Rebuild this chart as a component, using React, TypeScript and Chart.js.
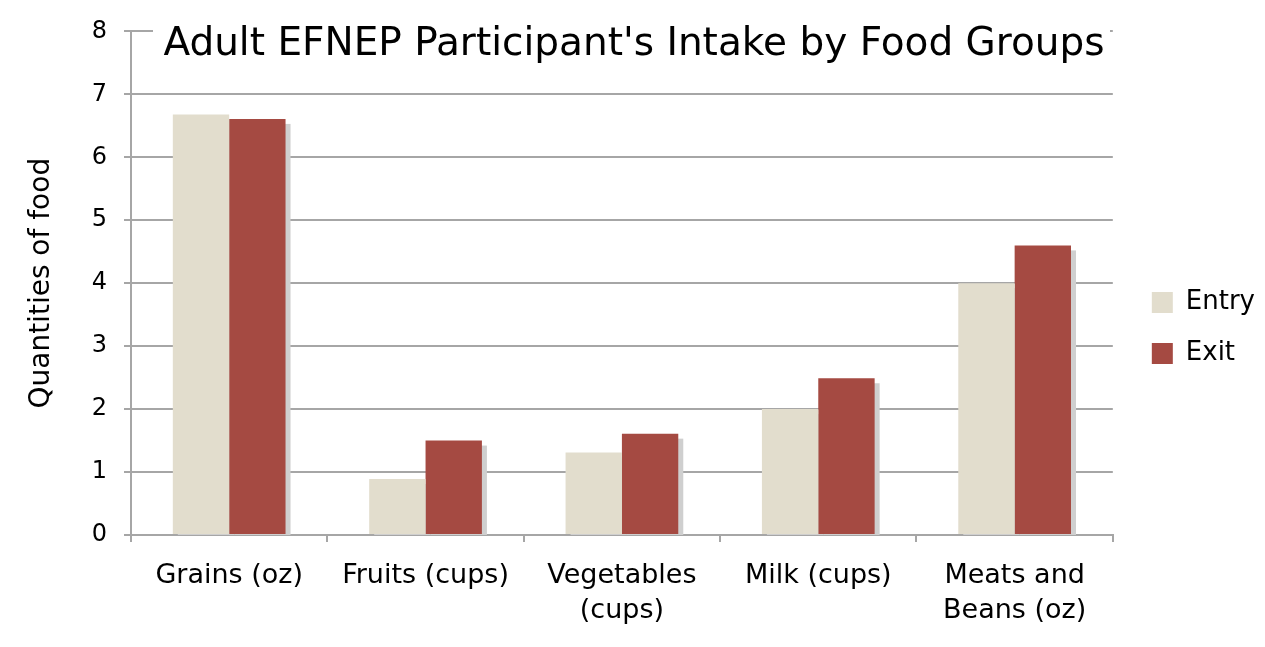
import React, { useEffect, useRef } from "react";
import { Chart, registerables } from "chart.js";

Chart.register(...registerables);

const chartTitle = "Adult EFNEP Participant's Intake by Food Groups";
const yAxisTitle = "Quantities of food";
const categories: (string | string[])[] = [
  "Grains (oz)",
  "Fruits (cups)",
  ["Vegetables", "(cups)"],
  "Milk (cups)",
  ["Meats and", "Beans (oz)"],
];
const seriesNames = ["Entry", "Exit"];
const entryValues = [6.68, 0.89, 1.31, 2.0, 4.0];
const exitValues = [6.61, 1.5, 1.61, 2.49, 4.6];
const yTicksMin = 0;
const yTicksMax = 8;
const yTickStep = 1;

const FONT = "'DejaVu Sans', sans-serif";
const GRID = "#a6a6a6";

const shadowPlugin = {
  id: "barShadow",
  beforeDatasetsDraw(chart: any) {
    const { ctx, chartArea } = chart;
    ctx.save();
    ctx.beginPath();
    ctx.rect(chartArea.left, chartArea.top, chartArea.right - chartArea.left, chartArea.bottom - chartArea.top);
    ctx.clip();
    ctx.fillStyle = "#cfcfcf";
    chart.data.datasets.forEach((_: any, i: number) => {
      const meta = chart.getDatasetMeta(i);
      meta.data.forEach((bar: any) => {
        const { x, y, base, width } = bar.getProps(["x", "y", "base", "width"], true);
        ctx.fillRect(x - width / 2 + 5, y + 5, width, base - y);
      });
    });
    ctx.restore();
  },
};

const titlePlugin = {
  id: "overlayTitle",
  afterDraw(chart: any) {
    const { ctx } = chart;
    ctx.save();
    ctx.fillStyle = "#ffffff";
    ctx.fillRect(153, 12, 957, 48);
    ctx.fillStyle = "#000000";
    ctx.font = `39px ${FONT}`;
    ctx.textAlign = "center";
    ctx.textBaseline = "alphabetic";
    ctx.fillText(chartTitle, 634, 55);
    ctx.restore();
  },
};

export default function App() {
  const ref = useRef<HTMLCanvasElement>(null);

  useEffect(() => {
    if (!ref.current) return;
    const chart = new Chart(ref.current, {
      type: "bar",
      data: {
        labels: categories,
        datasets: [
          {
            label: seriesNames[0],
            data: entryValues,
            backgroundColor: "#E2DDCD",
            borderWidth: 0,
            xAxisID: "x",
            yAxisID: "y",
          },
          {
            label: seriesNames[1],
            data: exitValues,
            backgroundColor: "#A54A42",
            borderWidth: 0,
            xAxisID: "x",
            yAxisID: "y",
          },
        ],
      },
      options: {
        responsive: false,
        animation: false,
        layout: { padding: { top: 30, bottom: 21, left: 0, right: 0 } },
        datasets: {
          bar: { categoryPercentage: 0.574, barPercentage: 1.0 },
        },
        plugins: {
          title: { display: false },
          tooltip: { enabled: false },
          legend: {
            display: true,
            position: "right",
            labels: {
              boxWidth: 21,
              boxHeight: 21,
              padding: 25,
              color: "#000",
              font: { family: FONT, size: 26 },
            },
          },
        },
        scales: {
          x: {
            type: "category",
            position: "bottom",
            afterFit: (s: any) => {
              s.height = 91;
            },
            grid: {
              display: true,
              offset: true,
              drawOnChartArea: false,
              drawTicks: true,
              tickLength: 7,
              color: GRID,
              lineWidth: 2,
            },
            border: { display: true, color: GRID, width: 2 },
            ticks: {
              color: "#000",
              font: { family: FONT, size: 27, lineHeight: 1.3 },
              padding: 16,
              maxRotation: 0,
              minRotation: 0,
              autoSkip: false,
            },
          },
          y: {
            type: "linear",
            position: "left",
            min: yTicksMin,
            max: yTicksMax,
            afterFit: (s: any) => {
              s.width = 131;
            },
            ticks: {
              stepSize: yTickStep,
              color: "#000",
              font: { family: FONT, size: 24 },
              padding: 17,
            },
            grid: {
              color: GRID,
              lineWidth: 2,
              tickLength: 7,
              drawTicks: true,
            },
            border: { display: true, color: GRID, width: 2 },
            title: {
              display: true,
              text: yAxisTitle,
              color: "#000",
              font: { family: FONT, size: 28, lineHeight: 1.2 },
              padding: { top: 25, bottom: 0 },
            },
          },
          spacer: {
            type: "linear",
            position: "right",
            display: true,
            afterFit: (s: any) => {
              s.width = 14;
            },
            ticks: { display: false },
            grid: { display: false, drawTicks: false },
            border: { display: false },
          },
        },
      },
      plugins: [shadowPlugin, titlePlugin],
    } as any);
    return () => chart.destroy();
  }, []);

  return (
    <div style={{ position: "absolute", left: 0, top: 0, width: 1265, height: 647, background: "#fff" }}>
      <canvas ref={ref} width={1265} height={647} style={{ display: "block" }} />
    </div>
  );
}
